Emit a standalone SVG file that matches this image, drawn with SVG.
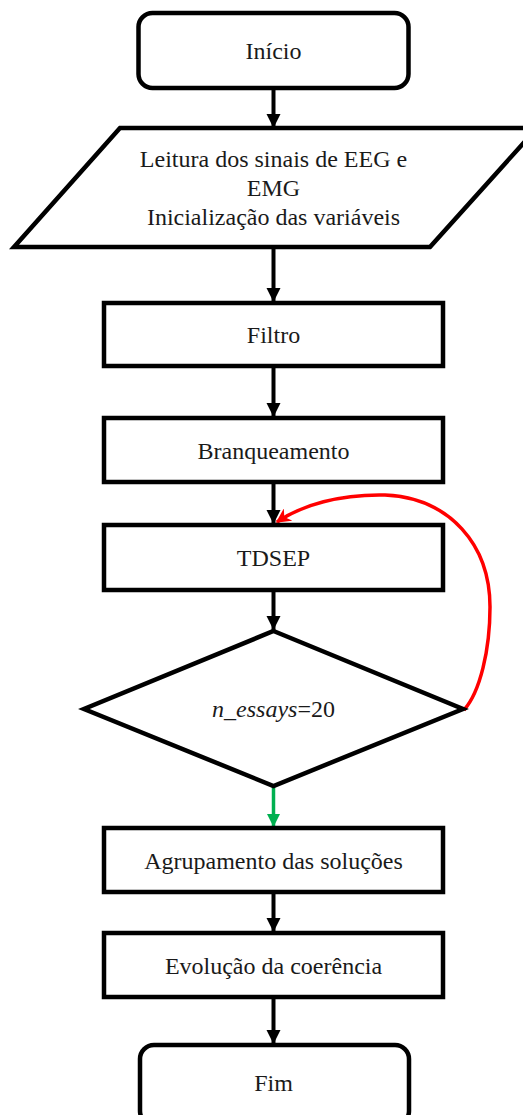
<svg xmlns="http://www.w3.org/2000/svg" width="523" height="1115" viewBox="0 0 523 1115">
  <style>
    .box { fill: #fff; stroke: #000; stroke-width: 4.5; stroke-linejoin: miter; }
    .lbl { font-family: "Liberation Serif", "Times New Roman", serif; font-size: 24px; fill: #1a1a1a; text-anchor: middle; dominant-baseline: central; }
    .edge { stroke: #000; stroke-width: 4; fill: none; }
  </style>
  <defs>
    <marker id="head" viewBox="0 0 10 10" refX="10" refY="5" markerWidth="3.6" markerHeight="3.6" orient="auto" markerUnits="strokeWidth">
      <path d="M0,0 L10,5 L0,10 Z" fill="#000"/>
    </marker>
    <marker id="headGreen" viewBox="0 0 10 10" refX="10" refY="5" markerWidth="3.8" markerHeight="3.8" orient="auto" markerUnits="strokeWidth">
      <path d="M0,0 L10,5 L0,10 Z" fill="#00B050"/>
    </marker>
    <marker id="headRed" viewBox="0 0 10 10" refX="9" refY="5" markerWidth="4.2" markerHeight="4.2" orient="auto" markerUnits="strokeWidth">
      <path d="M0,0 L10,5 L0,10 L3,5 Z" fill="#FF0000"/>
    </marker>
  </defs>

  <g id="connectors">
    <line class="edge" x1="273.5" y1="89" x2="273.5" y2="128" marker-end="url(#head)"/>
    <line class="edge" x1="273.5" y1="248" x2="273.5" y2="302" marker-end="url(#head)"/>
    <line class="edge" x1="273.5" y1="367" x2="273.5" y2="417" marker-end="url(#head)"/>
    <line class="edge" x1="273.5" y1="483" x2="273.5" y2="524" marker-end="url(#head)"/>
    <line class="edge" x1="273.5" y1="591" x2="273.5" y2="630" marker-end="url(#head)"/>
    <line x1="273.5" y1="787" x2="273.5" y2="827" stroke="#00B050" stroke-width="3.5" marker-end="url(#headGreen)"/>
    <line class="edge" x1="273.5" y1="893" x2="273.5" y2="932" marker-end="url(#head)"/>
    <line class="edge" x1="273.5" y1="998" x2="273.5" y2="1044" marker-end="url(#head)"/>
    <!-- loop back from the decision to TDSEP -->
    <path d="M464,710 C480,692 490,650 490,607 C490,545 450,498 385,495 C340,494 302,505 277,522" fill="none" stroke="#FF0000" stroke-width="3.5" marker-end="url(#headRed)"/>
  </g>

  <g id="inicio">
    <rect class="box" x="138.5" y="13" width="270" height="75" rx="14"/>
    <text class="lbl" x="273.5" y="51">Início</text>
  </g>

  <g id="leitura">
    <polygon class="box" points="120,128 537,128 430,247 14,247"/>
    <text class="lbl" x="273.5" y="159">Leitura dos sinais de EEG e</text>
    <text class="lbl" x="273.5" y="188">EMG</text>
    <text class="lbl" x="273.5" y="217">Inicialização das variáveis</text>
  </g>

  <g id="filtro">
    <rect class="box" x="104" y="303" width="339" height="63"/>
    <text class="lbl" x="273.5" y="335">Filtro</text>
  </g>

  <g id="branqueamento">
    <rect class="box" x="104" y="418" width="339" height="64"/>
    <text class="lbl" x="273.5" y="451">Branqueamento</text>
  </g>

  <g id="tdsep">
    <rect class="box" x="104" y="525" width="339" height="65"/>
    <text class="lbl" x="273.5" y="558">TDSEP</text>
  </g>

  <g id="decisao">
    <polygon class="box" points="273.5,631 463,709 273.5,786 84,709"/>
    <text class="lbl" x="273.5" y="709"><tspan font-style="italic">n_essays</tspan>=20</text>
  </g>

  <g id="agrupamento">
    <rect class="box" x="104" y="828" width="339" height="64"/>
    <text class="lbl" x="273.5" y="861">Agrupamento das soluções</text>
  </g>

  <g id="evolucao">
    <rect class="box" x="104" y="933" width="339" height="64"/>
    <text class="lbl" x="273.5" y="966">Evolução da coerência</text>
  </g>

  <g id="fim">
    <rect class="box" x="140" y="1045" width="269" height="80" rx="14"/>
    <text class="lbl" x="273.5" y="1083">Fim</text>
  </g>
</svg>
